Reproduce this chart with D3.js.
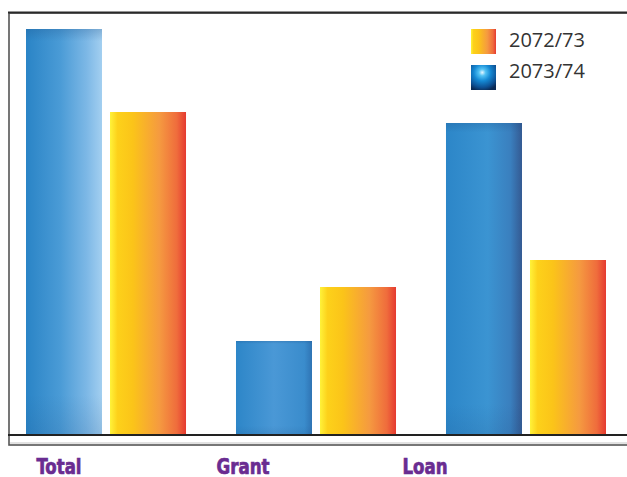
<!DOCTYPE html>
<html lang="en">
<head>
  <meta charset="UTF-8" />
  <title>Grant and Loan</title>
  <script src="https://cdn.jsdelivr.net/npm/d3@7"></script>
  <style>
    body { margin: 0; background: #fff; }
    svg { display: block; }
    .cat { font-family: "DejaVu Sans Condensed", "DejaVu Sans", sans-serif; font-weight: bold; font-size: 22px;
           fill: #6a2c91; stroke: #6a2c91; stroke-width: 0.7px; }
    .leg { font-family: "Open Sans", "Noto Sans", sans-serif; font-size: 20px; fill: #333; }
  </style>
</head>
<body>
<svg width="627" height="477"></svg>
<script>
  // categories and series (values in arbitrary units)
  const categories = ["Total", "Grant", "Loan"];
  const seriesKeys = ["2073/74", "2072/73"];
  const values2073 = [406, 94, 312];
  const values2072 = [323, 148, 175];
  const legendOrder = ["2072/73", "2073/74"];

  const svg = d3.select("svg");
  const baseY = 435, topY = 29;

  const x0 = d3.scaleBand().domain(categories).range([26, 606]).paddingInner(0.238).paddingOuter(0);
  const x1 = d3.scaleBand().domain(seriesKeys).range([0, x0.bandwidth()]).paddingInner(0.0952);
  const y = d3.scaleLinear().domain([0, 406]).range([baseY, topY]);

  const defs = svg.append("defs");

  // orange gradient
  const og = defs.append("linearGradient").attr("id", "orange").attr("x1", 0).attr("x2", 1).attr("y1", 0).attr("y2", 0);
  [[0, "#fff23a"], [0.1, "#fdd11a"], [0.3, "#fbc419"], [0.65, "#f59a40"], [0.88, "#ef6c3c"], [1, "#e53a30"]]
    .forEach(([o, c]) => og.append("stop").attr("offset", o).attr("stop-color", c));

  // blue gradients, a bit different on each bar
  const blueStops = {
    Total: [[0, "#2a84c6"], [0.45, "#4a9bd6"], [0.8, "#7db8e6"], [1, "#a3cff0"]],
    Grant: [[0, "#2d86c8"], [0.5, "#4a98d6"], [0.9, "#3a8ccc"], [1, "#2f74b4"]],
    Loan: [[0, "#2c86c8"], [0.55, "#3b94d2"], [0.85, "#3a7fbe"], [1, "#345a92"]]
  };
  categories.forEach(c => {
    const g = defs.append("linearGradient").attr("id", "blue-" + c).attr("x1", 0).attr("x2", 1).attr("y1", 0).attr("y2", 0);
    blueStops[c].forEach(([o, col]) => g.append("stop").attr("offset", o).attr("stop-color", col));
  });
  // vertical shade on blue bars
  const shade = defs.append("linearGradient").attr("id", "shade").attr("x1", 0).attr("x2", 0).attr("y1", 0).attr("y2", 1);
  shade.append("stop").attr("offset", 0).attr("stop-color", "#1d4f86").attr("stop-opacity", 0.25);
  shade.append("stop").attr("offset", 0.03).attr("stop-color", "#1d4f86").attr("stop-opacity", 0);
  shade.append("stop").attr("offset", 0.9).attr("stop-color", "#1d4f86").attr("stop-opacity", 0);
  shade.append("stop").attr("offset", 1).attr("stop-color", "#1d4f86").attr("stop-opacity", 0.15);

  // legend sphere gradient
  const rg = defs.append("radialGradient").attr("id", "sphere").attr("cx", 0.45).attr("cy", 0.3).attr("r", 0.75);
  [[0, "#e6f7ff"], [0.18, "#52c2f4"], [0.45, "#1589d4"], [0.8, "#0d4f92"], [1, "#0a2a55"]]
    .forEach(([o, c]) => rg.append("stop").attr("offset", o).attr("stop-color", c));

  // frame
  svg.append("rect").attr("x", 9).attr("y", 13).attr("width", 640).attr("height", 432)
    .attr("fill", "none").attr("stroke", "#555").attr("stroke-width", 1.6);
  svg.append("line").attr("x1", 8).attr("x2", 627).attr("y1", 12.5).attr("y2", 12.5)
    .attr("stroke", "#2a2a2a").attr("stroke-width", 2);
  svg.append("line").attr("x1", 10).attr("x2", 627).attr("y1", 443).attr("y2", 443)
    .attr("stroke", "#e2e2e2").attr("stroke-width", 2);

  const rows = categories.map((c, i) => ({ cat: c, "2073/74": values2073[i], "2072/73": values2072[i] }));

  const groups = svg.append("g").selectAll("g").data(rows).join("g")
    .attr("transform", d => `translate(${x0(d.cat)},0)`);

  groups.selectAll("rect.bar").data(d => seriesKeys.map(k => ({ key: k, cat: d.cat, value: d[k] })))
    .join("rect").attr("class", "bar")
    .attr("x", d => x1(d.key))
    .attr("y", d => y(d.value))
    .attr("width", x1.bandwidth())
    .attr("height", d => baseY - y(d.value))
    .attr("fill", d => d.key === "2072/73" ? "url(#orange)" : `url(#blue-${d.cat})`);

  groups.selectAll("rect.sh").data(d => [{ key: "2073/74", value: d["2073/74"] }])
    .join("rect").attr("class", "sh")
    .attr("x", d => x1(d.key))
    .attr("y", d => y(d.value))
    .attr("width", x1.bandwidth())
    .attr("height", d => baseY - y(d.value))
    .attr("fill", "url(#shade)");

  // baseline
  svg.append("line").attr("x1", 8).attr("x2", 627).attr("y1", 435).attr("y2", 435)
    .attr("stroke", "#222").attr("stroke-width", 2.2);

  // category labels (squeezed to the narrow heavy face of the original)
  const labelX = { Total: 59, Grant: 243, Loan: 425 };
  const labelW = { Total: 45, Grant: 53, Loan: 45 };
  svg.selectAll("text.cat").data(categories).join("text").attr("class", "cat")
    .attr("x", d => labelX[d] - labelW[d] / 2).attr("y", 474)
    .attr("textLength", d => labelW[d]).attr("lengthAdjust", "spacingAndGlyphs")
    .text(d => d);

  // legend
  const legendY = { "2072/73": 29, "2073/74": 65 };
  const textY = { "2072/73": 18, "2073/74": 13 };
  const li = svg.append("g").attr("transform", "translate(471,0)")
    .selectAll("g").data(legendOrder).join("g")
    .attr("transform", d => `translate(0,${legendY[d]})`);
  li.append("rect").attr("width", 25).attr("height", 25)
    .attr("fill", d => d === "2072/73" ? "url(#orange)" : "url(#sphere)");
  li.append("text").attr("class", "leg").attr("x", 38).attr("y", d => textY[d]).text(d => d);
</script>
</body>
</html>
